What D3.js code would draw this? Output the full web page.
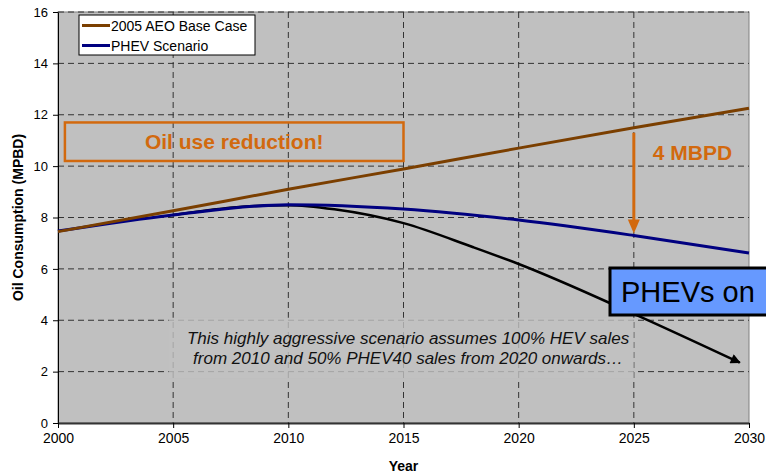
<!DOCTYPE html>
<html>
<head>
<meta charset="utf-8">
<script src="https://cdn.jsdelivr.net/npm/d3@7"></script>
<style>
  body { margin: 0; background: #fff; }
  svg { display: block; font-family: Arial, "Liberation Sans", sans-serif; }
</style>
</head>
<body>
<div id="chart"></div>
<script>
// Data
const years = [2000, 2005, 2010, 2015, 2020, 2025, 2030];
const baseCase = [7.45, 8.26, 9.10, 9.89, 10.70, 11.49, 12.25];
const phevScenario = [7.47, 8.10, 8.50, 8.33, 7.90, 7.30, 6.62];

// aggressive scenario (black curve with arrow)
const aggYears = [2005, 2008, 2010, 2012, 2015, 2018, 2020, 2025, 2029.6];
const aggValues = [8.10, 8.42, 8.48, 8.32, 7.78, 6.85, 6.19, 4.25, 2.35];

const yTicks = [0, 2, 4, 6, 8, 10, 12, 14, 16];
const xTicks = [2000, 2005, 2010, 2015, 2020, 2025, 2030];

const seriesNames = ["2005 AEO Base Case", "PHEV Scenario"];
const seriesColors = ["#7b3f00", "#000080"];

const W = 766, H = 476;
const margin = { top: 12, right: 17, bottom: 53, left: 58 };
const width = W - margin.left - margin.right;
const height = H - margin.top - margin.bottom;

const svg = d3.select("#chart").append("svg")
    .attr("width", W)
    .attr("height", H);

const g = svg.append("g")
    .attr("transform", "translate(" + margin.left + "," + margin.top + ")");

const x = d3.scaleLinear().domain([2000, 2030]).range([0, width]);
const y = d3.scaleLinear().domain([0, 16]).range([height, 0]);

// plot background
g.append("rect")
    .attr("width", width)
    .attr("height", height)
    .attr("fill", "#c0c0c0")
    .attr("stroke", "#808080")
    .attr("stroke-width", 1);

// grid
g.selectAll(".hgrid")
    .data(yTicks.filter(d => d > 0))
    .enter().append("line")
    .attr("x1", 0).attr("x2", width)
    .attr("y1", d => y(d)).attr("y2", d => y(d))
    .attr("stroke", "#333")
    .attr("stroke-dasharray", "6,4");

g.selectAll(".vgrid")
    .data(xTicks.filter(d => d > 2000 && d < 2030))
    .enter().append("line")
    .attr("x1", d => x(d)).attr("x2", d => x(d))
    .attr("y1", 0).attr("y2", height)
    .attr("stroke", "#333")
    .attr("stroke-dasharray", "6,4");

// axes
const yAxis = d3.axisLeft(y).tickValues(yTicks).tickSize(5).tickSizeOuter(0);
const xAxis = d3.axisBottom(x).tickValues(xTicks).tickFormat(d3.format("d")).tickSize(5).tickSizeOuter(0);

g.append("g").attr("class", "y-axis").call(yAxis)
    .call(a => a.select(".domain").attr("stroke", "#000"))
    .call(a => a.selectAll("text").attr("font-size", 13).attr("fill", "#000").attr("x", -10));

g.append("g").attr("class", "x-axis")
    .attr("transform", "translate(0," + height + ")")
    .call(xAxis)
    .call(a => a.select(".domain").attr("stroke", "#333").attr("stroke-width", 2))
    .call(a => a.selectAll("text").attr("font-size", 14).attr("fill", "#000").attr("y", 10));

// axis titles
svg.append("text")
    .attr("x", margin.left + width / 2)
    .attr("y", 471)
    .attr("text-anchor", "middle")
    .attr("font-size", 14)
    .attr("font-weight", "bold")
    .text("Year");

svg.append("text")
    .attr("transform", "translate(23," + (margin.top + height / 2) + ") rotate(-90)")
    .attr("text-anchor", "middle")
    .attr("font-size", 14)
    .attr("font-weight", "bold")
    .text("Oil Consumption (MPBD)");

// lines
const line = d3.line()
    .x(d => x(d[0]))
    .y(d => y(d[1]))
    .curve(d3.curveMonotoneX);

svg.append("defs").append("marker")
    .attr("id", "blackArrow")
    .attr("viewBox", "0 0 10 10")
    .attr("refX", 9).attr("refY", 5)
    .attr("markerWidth", 5).attr("markerHeight", 4)
    .attr("orient", "auto")
    .attr("markerUnits", "strokeWidth")
    .append("path")
    .attr("d", "M0,0L10,5L0,10z")
    .attr("fill", "#000");

g.append("path")
    .datum(aggYears.map((d, i) => [d, aggValues[i]]))
    .attr("fill", "none")
    .attr("stroke", "#000")
    .attr("stroke-width", 2.5)
    .attr("marker-end", "url(#blackArrow)")
    .attr("d", line);

g.append("path")
    .datum(years.map((d, i) => [d, phevScenario[i]]))
    .attr("fill", "none")
    .attr("stroke", seriesColors[1])
    .attr("stroke-width", 3)
    .attr("d", line);

g.append("path")
    .datum(years.map((d, i) => [d, baseCase[i]]))
    .attr("fill", "none")
    .attr("stroke", seriesColors[0])
    .attr("stroke-width", 3)
    .attr("d", line);

// legend
const legend = svg.append("g").attr("transform", "translate(79,15)");
legend.append("rect")
    .attr("width", 176).attr("height", 40)
    .attr("fill", "#fff").attr("stroke", "#000");
seriesNames.forEach((name, i) => {
    legend.append("line")
        .attr("x1", 3).attr("x2", 31)
        .attr("y1", 10.5 + i * 20).attr("y2", 10.5 + i * 20)
        .attr("stroke", seriesColors[i]).attr("stroke-width", 3);
    legend.append("text")
        .attr("x", 32).attr("y", 16 + i * 20)
        .attr("font-size", 14)
        .text(name);
});

// annotations
const orange = "#d2690e";

g.append("rect")
    .attr("x", x(2000.3)).attr("y", y(11.7))
    .attr("width", x(2015) - x(2000.3))
    .attr("height", y(10.2) - y(11.7))
    .attr("fill", "none")
    .attr("stroke", orange)
    .attr("stroke-width", 2.5);

g.append("text")
    .attr("x", (x(2000.3) + x(2015)) / 2)
    .attr("y", y(10.95) + 7)
    .attr("text-anchor", "middle")
    .attr("font-size", 21)
    .attr("font-weight", "bold")
    .attr("fill", orange)
    .text("Oil use reduction!");

// 4 MBPD arrow
const arrowTop = y(11.3), arrowTip = y(7.38);
g.append("line")
    .attr("x1", x(2025)).attr("x2", x(2025))
    .attr("y1", arrowTop).attr("y2", arrowTip - 12)
    .attr("stroke", orange).attr("stroke-width", 3);
g.append("path")
    .attr("d", "M" + (x(2025) - 6) + "," + (arrowTip - 14) + "L" + (x(2025) + 6) + "," + (arrowTip - 14) + "L" + x(2025) + "," + arrowTip + "z")
    .attr("fill", orange);

g.append("text")
    .attr("x", x(2025) + 19)
    .attr("y", y(10) - 6)
    .attr("font-size", 21)
    .attr("font-weight", "bold")
    .attr("fill", orange)
    .text("4 MBPD");

// note box with text
g.append("rect")
    .attr("x", x(2004.8)).attr("y", y(4.1))
    .attr("width", x(2025) - x(2004.8))
    .attr("height", y(1.75) - y(4.1))
    .attr("fill", "#c0c0c0")
    .attr("opacity", 0.8);

const note = g.append("text")
    .attr("text-anchor", "middle")
    .attr("font-size", 17)
    .attr("font-style", "italic")
    .attr("fill", "#111");
note.append("tspan").attr("x", x(2015.2)).attr("y", y(3.3) + 6)
    .text("This highly aggressive scenario assumes 100% HEV sales");
note.append("tspan").attr("x", x(2015.2)).attr("y", y(2.55) + 7)
    .text("from 2010 and 50% PHEV40 sales from 2020 onwards…");

// PHEVs on callout
svg.append("rect")
    .attr("x", 610).attr("y", 268)
    .attr("width", 170).attr("height", 47)
    .attr("fill", "#6699ff")
    .attr("stroke", "#000")
    .attr("stroke-width", 3);
svg.append("text")
    .attr("x", 621).attr("y", 302)
    .attr("font-size", 29)
    .attr("fill", "#000")
    .text("PHEVs on");
</script>
</body>
</html>
